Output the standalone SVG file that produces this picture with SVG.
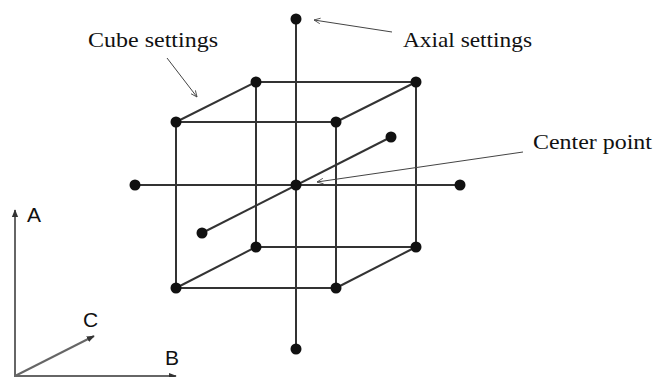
<svg xmlns="http://www.w3.org/2000/svg" width="654" height="377" viewBox="0 0 654 377">
<style>
.edge{stroke:#333;stroke-width:2;fill:none}
.dot{fill:#111}
.ann{stroke:#444;stroke-width:1;fill:none}
.lbl{font-family:"Liberation Serif","DejaVu Serif",serif;font-size:21px;fill:#111}
.ax{stroke:#666;stroke-width:2;fill:none}
.axl{font-family:"Liberation Sans",Arial,sans-serif;font-size:21px;fill:#111}
</style>
<defs>
<marker id="ah" viewBox="0 0 10 10" refX="9" refY="5" markerWidth="7" markerHeight="7" orient="auto" markerUnits="userSpaceOnUse">
<path d="M0,1 L9,5 L0,9" fill="none" stroke="#444" stroke-width="1.2"/>
</marker>
<marker id="axh" viewBox="0 0 10 10" refX="9" refY="5" markerWidth="8" markerHeight="8" orient="auto" markerUnits="userSpaceOnUse">
<path d="M0,1 L10,5 L0,9 Z" fill="#333"/>
</marker>
</defs>
<g id="connectors">
<line class="edge" x1="296" y1="19" x2="296" y2="349"/>
<line class="edge" x1="135" y1="185" x2="460" y2="185"/>
<line class="edge" x1="202" y1="233" x2="391" y2="137"/>
<rect class="edge" x="256" y="82" width="160" height="165"/>
<rect class="edge" x="176" y="122" width="160" height="166"/>
<line class="edge" x1="176" y1="122" x2="256" y2="82"/>
<line class="edge" x1="336" y1="122" x2="416" y2="82"/>
<line class="edge" x1="176" y1="288" x2="256" y2="247"/>
<line class="edge" x1="336" y1="288" x2="416" y2="247"/>
<line class="ann" x1="167" y1="58" x2="197" y2="97" marker-end="url(#ah)"/>
<line class="ann" x1="392" y1="32" x2="314" y2="20" marker-end="url(#ah)"/>
<line class="ann" x1="523" y1="152" x2="317" y2="182" marker-end="url(#ah)"/>
</g>
<g id="points">
<circle class="dot" cx="176" cy="122" r="5.5"/>
<circle class="dot" cx="336" cy="122" r="5.5"/>
<circle class="dot" cx="176" cy="288" r="5.5"/>
<circle class="dot" cx="336" cy="288" r="5.5"/>
<circle class="dot" cx="256" cy="82" r="5.5"/>
<circle class="dot" cx="416" cy="82" r="5.5"/>
<circle class="dot" cx="256" cy="247" r="5.5"/>
<circle class="dot" cx="416" cy="247" r="5.5"/>
<circle class="dot" cx="296" cy="185" r="5.5"/>
<circle class="dot" cx="296" cy="19" r="5.5"/>
<circle class="dot" cx="296" cy="349" r="5.5"/>
<circle class="dot" cx="135" cy="185" r="5.5"/>
<circle class="dot" cx="460" cy="185" r="5.5"/>
<circle class="dot" cx="202" cy="233" r="5.5"/>
<circle class="dot" cx="391" cy="137" r="5.5"/>
</g>
<g id="labels">
<text class="lbl" x="88" y="47" textLength="130" lengthAdjust="spacingAndGlyphs">Cube settings</text>
<text class="lbl" x="403" y="47" textLength="129" lengthAdjust="spacingAndGlyphs">Axial settings</text>
<text class="lbl" x="533" y="149" textLength="119" lengthAdjust="spacingAndGlyphs">Center point</text>
</g>
<g id="axes">
<line class="ax" x1="15" y1="377" x2="15" y2="210" marker-end="url(#axh)"/>
<line class="ax" x1="15" y1="376" x2="176" y2="376" marker-end="url(#axh)"/>
<line class="ax" x1="15" y1="376" x2="94" y2="336" marker-end="url(#axh)"/>
<text class="axl" x="27" y="222">A</text>
<text class="axl" x="165" y="365">B</text>
<text class="axl" x="83" y="327">C</text>
</g>
</svg>
